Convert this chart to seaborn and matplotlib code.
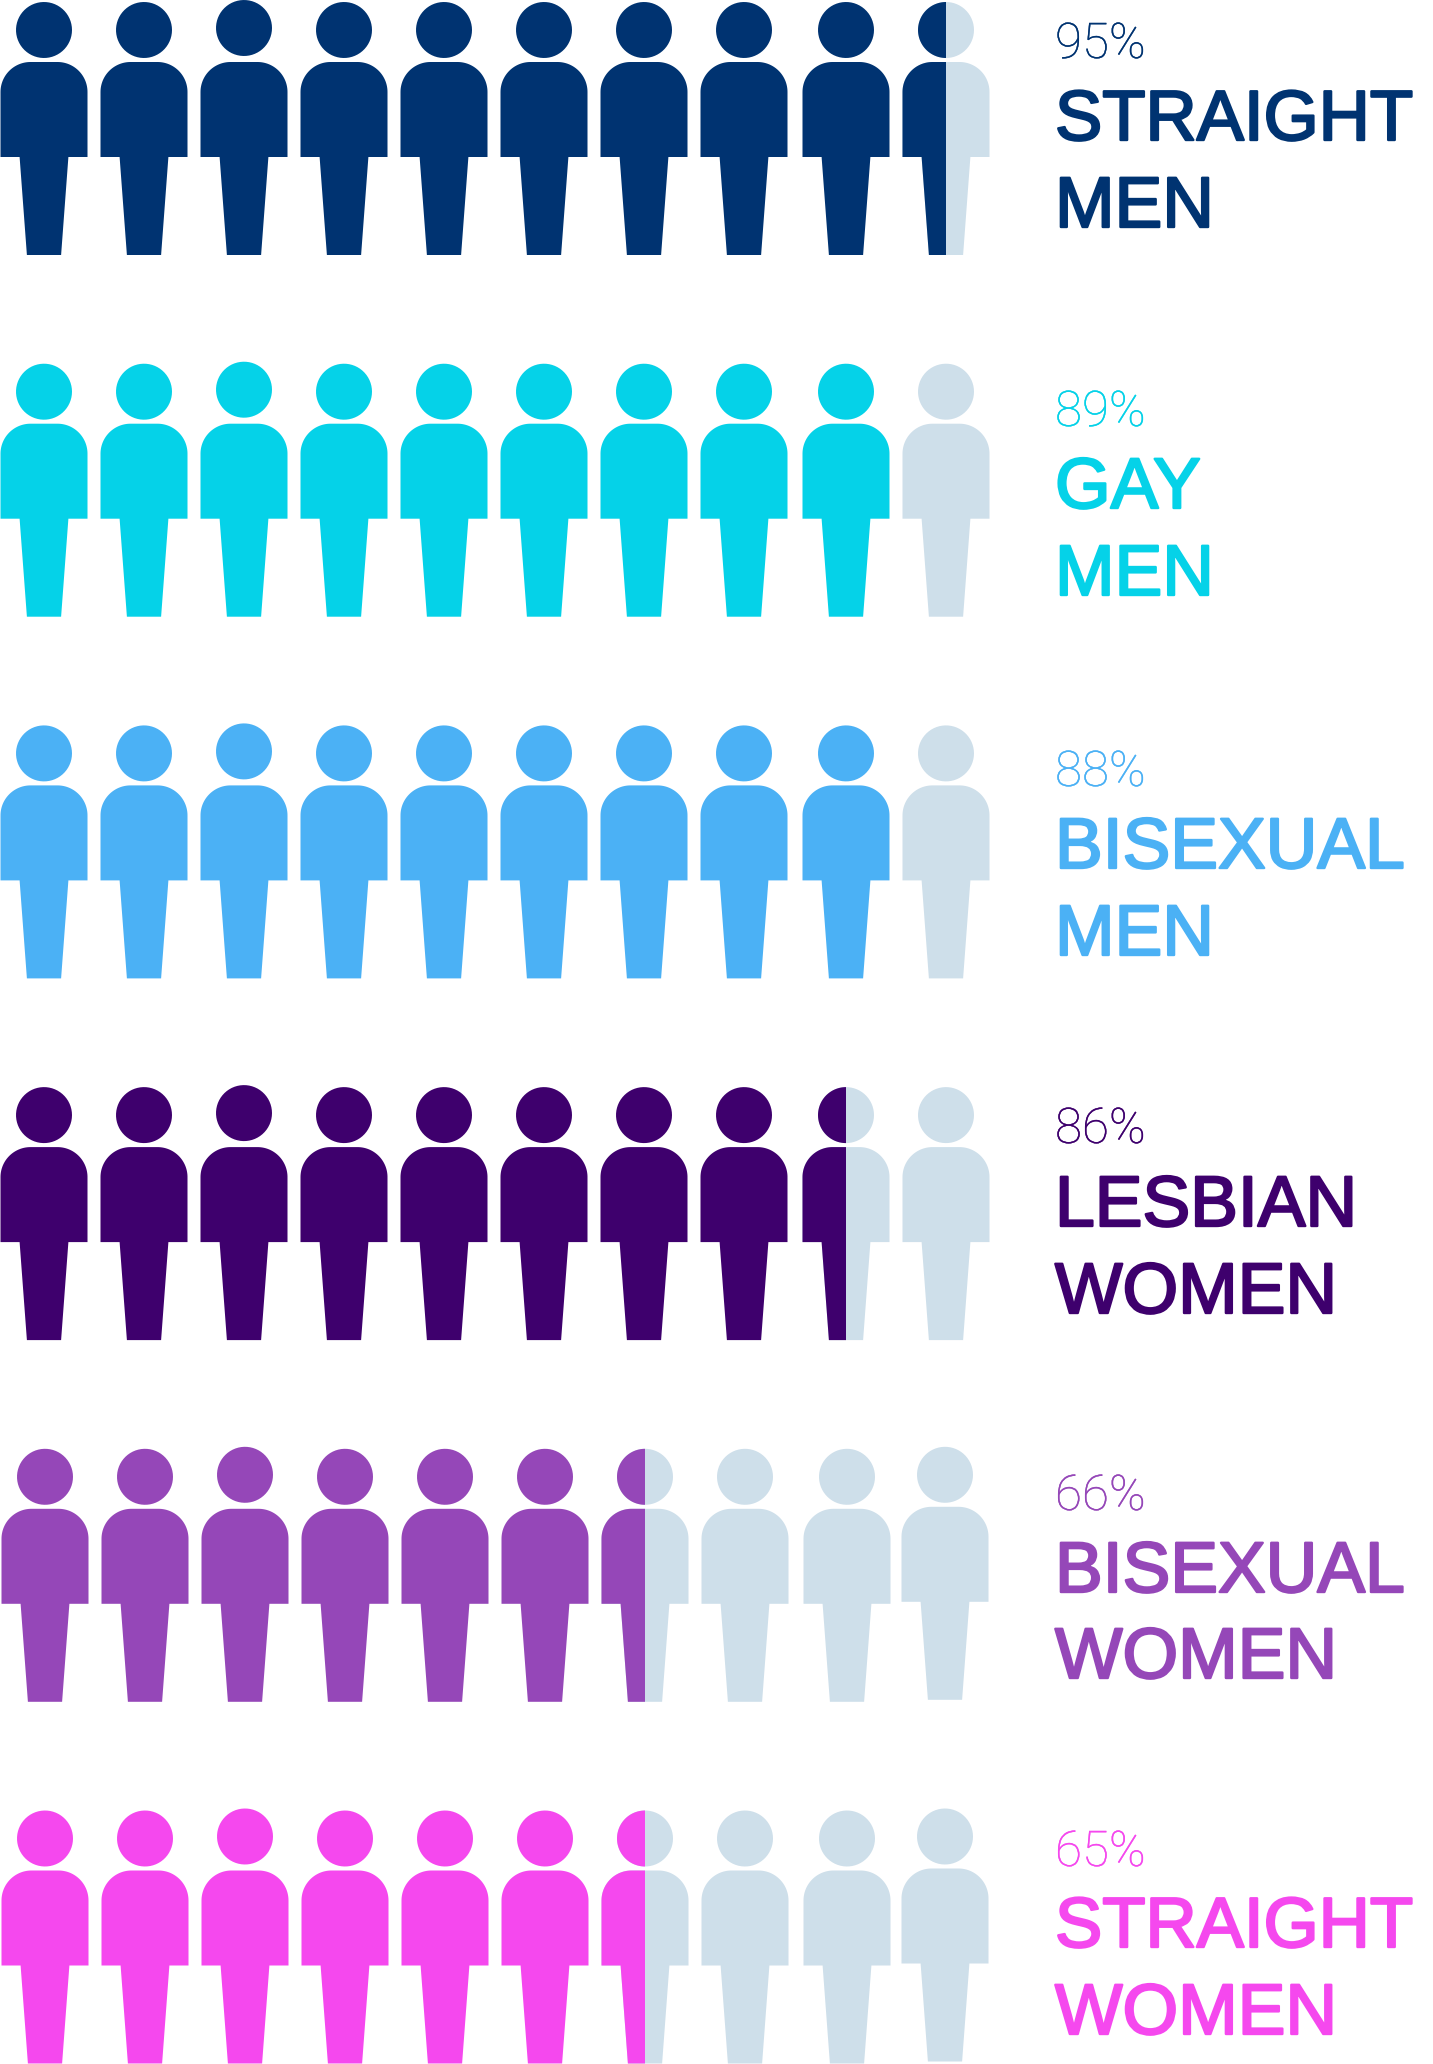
import numpy as np
import pandas as pd
import seaborn as sns
import matplotlib
matplotlib.use("Agg")
import matplotlib.pyplot as plt
import matplotlib.patheffects as pe
from matplotlib.path import Path

# data
groups_line1 = ["STRAIGHT", "GAY", "BISEXUAL", "LESBIAN", "BISEXUAL", "STRAIGHT"]
groups_line2 = ["MEN", "MEN", "MEN", "WOMEN", "WOMEN", "WOMEN"]
percents = [95, 89, 88, 86, 66, 65]
filled = [9.5, 9, 9, 8.5, 6.5, 6.5]  # people coloured out of 10
colors = ["#003371", "#05D2E8", "#4BB1F5", "#3E006D", "#9547B8", "#F548EE"]
PALE = "#CEDFEA"

# layout in pixels
W, H = 1433, 2064
PITCH_X, PITCH_Y = 100, 361.7
X0, Y0 = 44, 120
pct_base = [58, 426, 786, 1143, 1510, 1866]
line1_base = [140, 508, 868, 1226, 1592, 1947]
line2_base = [227, 595, 955, 1313, 1678, 2034]


def arc(cx, cy, r, a0, a1, n=60):
    t = np.radians(np.linspace(a0, a1, n))
    return np.column_stack([cx + r * np.cos(t), cy + r * np.sin(t)])


def person(half=False, head_up=0):
    # origin at person centre, feet are always the farthest point so that
    # every marker gets the same scale
    head_y = 90 + head_up
    if half:
        head = arc(0, head_y, 28, 90, 270)
        body = np.vstack([[[0, 58]], arc(-13.5, 28, 30, 90, 180),
                          [[-43.5, -37], [-24.4, -37], [-17.1, -135], [0, -135]]])
    else:
        head = arc(0, head_y, 28, 0, 360)
        body = np.vstack([arc(13.5, 28, 30, 0, 90), arc(-13.5, 28, 30, 90, 180),
                          [[-43.5, -37], [-24.4, -37], [-17.1, -135], [17.1, -135],
                           [24.4, -37], [43.5, -37]]])
    parts = [Path(np.vstack([p, p[0]]), closed=True) for p in (head, body)]
    return Path.make_compound_path(*parts)


sns.set_theme(style="white")
plt.rcParams["font.family"] = ["Liberation Sans", "DejaVu Sans"]

fig = plt.figure(figsize=(W / 100, H / 100), dpi=100)
ax = fig.add_axes([0, 0, 1, 1])
ax.set_xlim(-X0 / PITCH_X, (W - X0) / PITCH_X)
ax.set_ylim((H - Y0) / PITCH_Y, -Y0 / PITCH_Y)
ax.axis("off")

# marker area: 270 px tall person in points
size = (270 * 0.72) ** 2


def draw(df, marker, color):
    if len(df) == 0:
        return
    sns.scatterplot(data=df, x="x", y="y", marker=marker, s=size, color=color,
                    edgecolor="none", linewidth=0, legend=False, ax=ax, zorder=2)


for row, (n, col) in enumerate(zip(filled, colors)):
    idx = np.arange(10)
    # the last two figures are set 2 px further right in the source artwork
    people = pd.DataFrame({"pos": idx, "x": idx + (idx >= 8) * 2 / PITCH_X, "y": float(row)})
    if row >= 4:
        people["x"] += 1 / PITCH_X
        # last figure of the two bottom rows sits a little higher
        people.loc[9, "x"] = 9.01
        people.loc[9, "y"] = row - 2 / PITCH_Y
    full = people[people.pos < int(n)]
    rest = people[people.pos >= int(n)]

    draw(rest, person(), PALE)
    draw(full[full.pos != 2], person(), col)
    draw(full[full.pos == 2], person(head_up=2), col)
    if n % 1:
        draw(people[people.pos == int(n)], person(half=True), col)

    x_txt = (1055 - X0) / PITCH_X
    ax.text(x_txt, (pct_base[row] - Y0) / PITCH_Y, f"{percents[row]}%", color=col,
            family="Roboto", weight=100, fontsize=35.5, va="baseline", ha="left",
            path_effects=[pe.withStroke(linewidth=0.2, foreground=col)])
    for txt, base in ((groups_line1[row], line1_base[row]), (groups_line2[row], line2_base[row])):
        # STRAIGHT is kerned tighter in the original, so a bit smaller here
        fs = 51 if txt == "STRAIGHT" else 51.5
        ax.text(x_txt, (base - Y0) / PITCH_Y, txt, color=col, fontsize=fs,
                va="baseline", ha="left",
                path_effects=[pe.withStroke(linewidth=1.7, foreground=col)])

fig.savefig("out.png", dpi=100, facecolor="white")
